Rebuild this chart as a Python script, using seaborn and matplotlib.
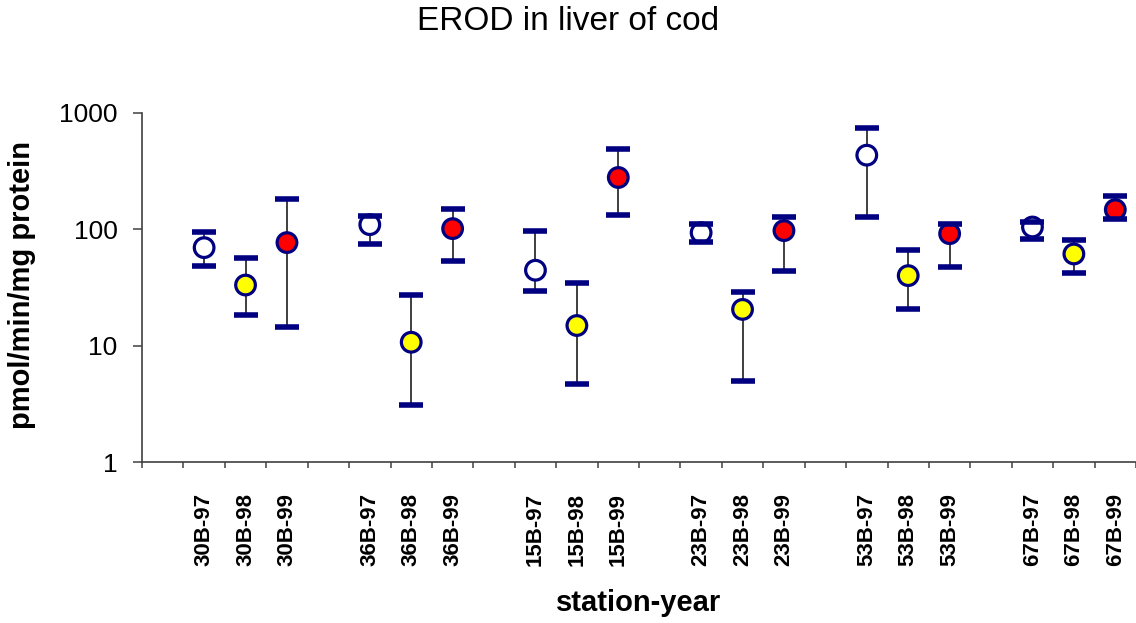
import matplotlib
matplotlib.use("Agg")
import matplotlib.pyplot as plt
import seaborn as sns
import pandas as pd
import numpy as np
from matplotlib.ticker import FixedLocator, NullFormatter, FixedFormatter, NullLocator

# ---- data ----
stations = ["30B", "36B", "15B", "23B", "53B", "67B"]
years = ["97", "98", "99"]
means = [69.6, 33.2, 76.9, 109.7, 10.7, 101.4, 44.5, 14.9, 279, 93.6, 20.5, 97.5,
         434, 40.0, 91.8, 104.7, 61.4, 147.6]
upper = [95.6, 56.7, 181, 130, 27.1, 149.5, 96.1, 34.9, 486, 112, 29.0, 127,
         746, 66.5, 111, 115, 81.5, 192]
lower = [48.4, 18.3, 14.5, 74.8, 3.10, 53.9, 29.4, 4.67, 132, 77.8, 4.96, 44.2,
         128, 20.6, 47.2, 82, 42.2, 123.6]
year_colors = {"97": "white", "98": "#FFFF00", "99": "#FF0000"}
y_ticks = [1, 10, 100, 1000]

# category layout: a blank slot before each station group
cats = []
for s in stations:
    cats.append("")
    for y in years:
        cats.append(f"{s}-{y}")

rows = []
k = 0
for s in stations:
    for y in years:
        label = f"{s}-{y}"
        rows.append(dict(label=label, year=y, pos=cats.index(label),
                         mean=means[k], lo=lower[k], hi=upper[k]))
        k += 1
df = pd.DataFrame(rows)

sns.set_theme(style="white")
plt.rcParams["font.family"] = ["Liberation Sans", "DejaVu Sans"]
plt.rcParams["text.color"] = "black"
plt.rcParams["axes.labelcolor"] = "black"
plt.rcParams["xtick.color"] = "black"
plt.rcParams["ytick.color"] = "black"

fig = plt.figure(figsize=(11.36, 6.23), dpi=100)
W, H = 1136, 623
ax = fig.add_axes([142 / W, 1 - 462 / H, (1136 - 142) / W, (462 - 113) / H])

navy = "#000080"
# error stems
ax.vlines(df["pos"], df["lo"], df["hi"], color="#303030", lw=1.3, zorder=1)
# markers
sns.scatterplot(data=df, x="pos", y="mean", hue="year", palette=year_colors,
                s=200, edgecolor=navy, linewidth=2.3, legend=False, ax=ax, zorder=3)
# caps
for col in ["lo", "hi"]:
    ax.plot(df["pos"], df[col], linestyle="none", marker="_", markersize=17,
            mew=4.0, color=navy, zorder=4)

ax.set_yscale("log")
ax.set_ylim(1, 1000)
ax.set_xlim(-0.5, len(cats) - 0.5)
ax.yaxis.set_major_locator(FixedLocator(y_ticks))
ax.yaxis.set_major_formatter(FixedFormatter([str(t) for t in y_ticks]))
ax.yaxis.set_minor_locator(NullLocator())

# x: ticks at category boundaries, labels at centers
ax.xaxis.set_major_locator(FixedLocator(np.arange(-0.5, len(cats), 1.0)))
ax.xaxis.set_major_formatter(NullFormatter())
ax.xaxis.set_minor_locator(FixedLocator(np.arange(len(cats))))
ax.xaxis.set_minor_formatter(FixedFormatter(cats))

ax.tick_params(axis="x", which="major", direction="out", length=4, width=1.1,
               color="#404040", bottom=True)
ax.tick_params(axis="x", which="minor", length=0, pad=22, labelsize=16,
               labelrotation=90, bottom=True)
for t in ax.xaxis.get_minorticklabels():
    t.set_fontweight("bold")
ax.tick_params(axis="y", which="major", direction="out", length=6.5, width=1.1,
               color="#404040", pad=11, labelsize=19, left=True)

for side in ["top", "right"]:
    ax.spines[side].set_visible(False)
for side in ["left", "bottom"]:
    ax.spines[side].set_color("#404040")
    ax.spines[side].set_linewidth(1.2)

ax.set_xlabel("station-year", fontsize=21, fontweight="bold")
ax.xaxis.set_label_coords(0.5, (462 - 603) / 349)
ax.xaxis.label.set_va("center")
ax.set_ylabel("pmol/min/mg protein", fontsize=21, fontweight="bold")
ax.yaxis.set_label_coords((22 - 142) / 994, (462 - 285) / 349)
ax.yaxis.label.set_va("center")

fig.text(0.5, 1 - 22 / H, "EROD in liver of cod", ha="center", va="center", fontsize=24)

fig.savefig("out.png", dpi=100)
